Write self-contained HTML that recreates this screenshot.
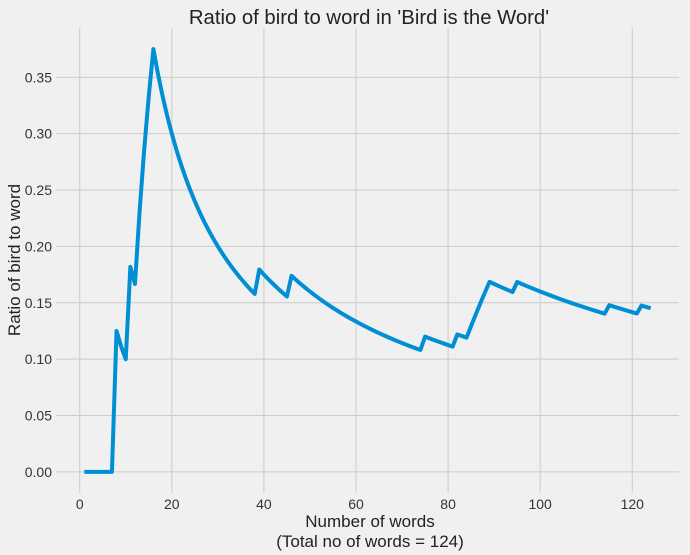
<!DOCTYPE html>
<html><head><meta charset="utf-8"><style>
html,body{margin:0;padding:0;background:#f0f0f0;}
svg{display:block;font-family:"Liberation Sans",sans-serif;}
</style></head><body>
<svg id="chart" width="690" height="555">
<rect width="690" height="555" fill="#f0f0f0"/>
<g id="grid"></g>
<g id="ticks"></g>
<path id="line" fill="none" stroke="#008fd5" stroke-width="4" stroke-linejoin="round"/>
<text x="369" y="24" text-anchor="middle" font-size="20.3" fill="#222">Ratio of bird to word in 'Bird is the Word'</text>
<text x="370" y="527" text-anchor="middle" font-size="17" fill="#222">Number of words</text>
<text x="370" y="547" text-anchor="middle" font-size="17" fill="#222">(Total no of words = 124)</text>
<text transform="translate(20,260) rotate(-90)" text-anchor="middle" font-size="17" fill="#222">Ratio of bird to word</text>
</svg>
<script>
const birdCounts = [0,0,0,0,0,0,0,1,1,1,2,2,3,4,5,
6,6,6,6,6,6,6,6,6,6,6,6,6,6,6,6,6,6,6,6,6,6,6,
7,7,7,7,7,7,7,
8,8,8,8,8,8,8,8,8,8,8,8,8,8,8,8,8,8,8,8,8,8,8,8,8,8,8,8,8,
9,9,9,9,9,9,9,
10,10,10,11,12,13,14,
15,15,15,15,15,15,
16,16,16,16,16,16,16,16,16,16,16,16,16,16,16,16,16,16,16,16,
17,17,17,17,17,17,17,
18,18,18];
const xTicks = [0,20,40,60,80,100,120];
const yTicks = [0,0.05,0.10,0.15,0.20,0.25,0.30,0.35];
const xMin=-5.15, xMax=130.15, yMin=-0.01875, yMax=0.39375;
const L=56, R=679, T=28, B=493;
const sx = v => L + (v - xMin) / (xMax - xMin) * (R - L);
const sy = v => B - (v - yMin) / (yMax - yMin) * (B - T);
const NS = "http://www.w3.org/2000/svg";
const grid = document.getElementById('grid'), ticks = document.getElementById('ticks');
xTicks.forEach(t => {
  const l = document.createElementNS(NS,'line');
  l.setAttribute('x1',sx(t)); l.setAttribute('x2',sx(t)); l.setAttribute('y1',T); l.setAttribute('y2',B);
  l.setAttribute('stroke','#cbcbcb'); l.setAttribute('stroke-width','1');
  
  
  grid.appendChild(l);
  const tx = document.createElementNS(NS,'text');
  tx.setAttribute('x',sx(t)); tx.setAttribute('y',509); tx.setAttribute('text-anchor','middle');
  tx.setAttribute('font-size','14'); tx.setAttribute('fill','#333'); tx.textContent = t;
  
  
  ticks.appendChild(tx);
});
yTicks.forEach(t => {
  const l = document.createElementNS(NS,'line');
  l.setAttribute('x1',L); l.setAttribute('x2',R); l.setAttribute('y1',sy(t)); l.setAttribute('y2',sy(t));
  l.setAttribute('stroke','#cbcbcb'); l.setAttribute('stroke-width','1');
  
  
  grid.appendChild(l);
  const tx = document.createElementNS(NS,'text');
  tx.setAttribute('x',52); tx.setAttribute('y',sy(t)+5); tx.setAttribute('text-anchor','end');
  tx.setAttribute('font-size','14'); tx.setAttribute('fill','#333'); tx.textContent = t.toFixed(2);
  
  
  ticks.appendChild(tx);
});
let d = '';
birdCounts.forEach((c,i) => {
  const n = i + 1;
  d += (i ? 'L' : 'M') + sx(n).toFixed(2) + ',' + sy(c / n).toFixed(2);
});
document.getElementById('line').setAttribute('d', d);
</script>
</body></html>
